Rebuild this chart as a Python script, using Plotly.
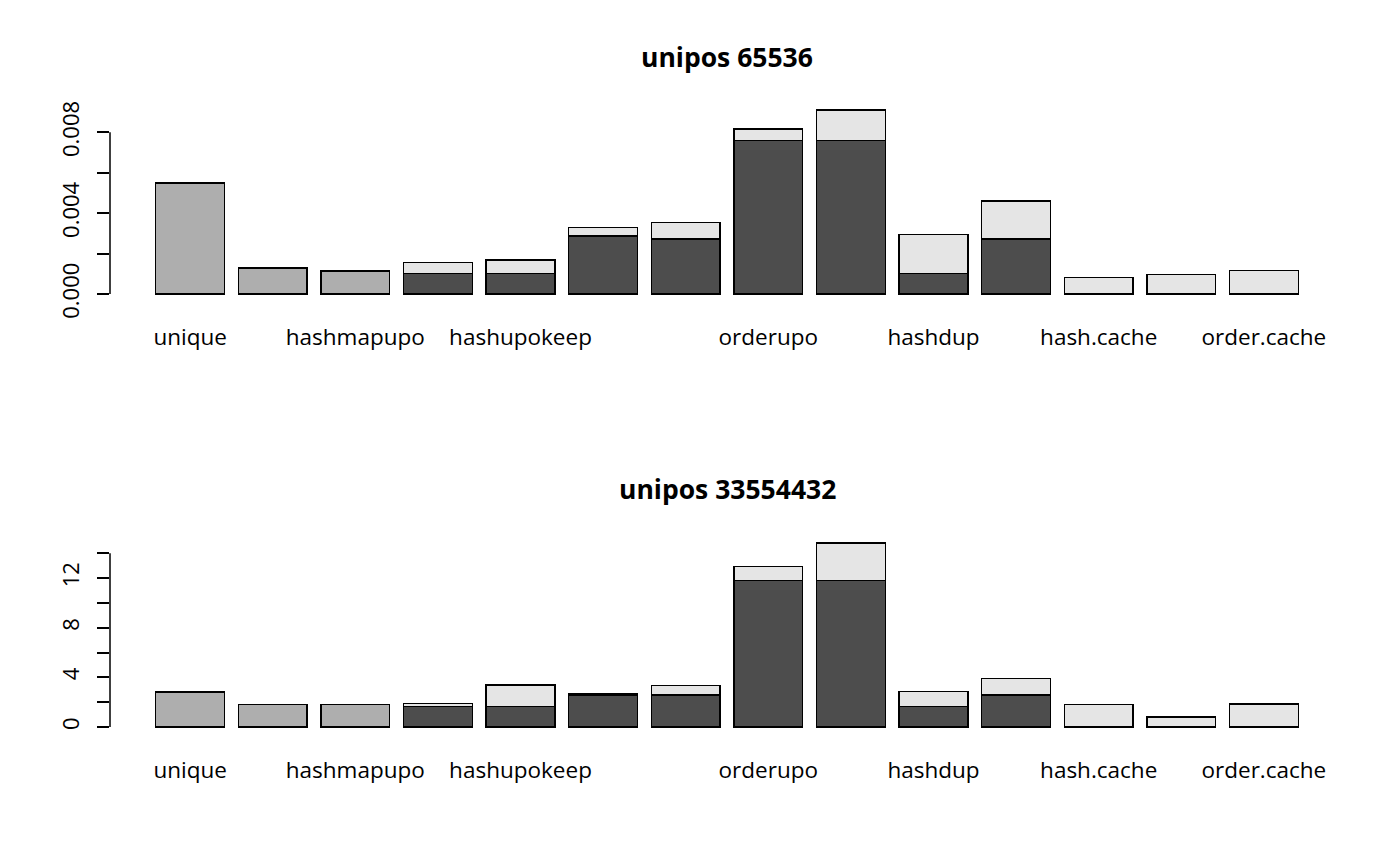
import plotly.graph_objects as go
from plotly.subplots import make_subplots

# bar labels that R actually printed (the rest were dropped for overlap)
label_pos = [1, 3, 5, 8, 10, 12, 14]
label_text = ["unique", "hashmapupo", "hashupokeep", "orderupo",
              "hashdup", "hash.cache", "order.cache"]
bar_pos = list(range(1, 15))

# panel 1: unipos 65536 (seconds)
small_mid = [0.0055, 0.0013, 0.00114, None, None, None, None,
             None, None, None, None, None, None, None]
small_dark = [None, None, None, 0.00102, 0.00102, 0.00287, 0.00272,
              0.00759, 0.00759, 0.00102, 0.00272, None, None, None]
small_light = [None, None, None, 0.00055, 0.00066, 0.00043, 0.00081,
               0.00058, 0.00152, 0.00193, 0.00188, 0.00081, 0.00097, 0.00117]

# panel 2: unipos 33554432 (seconds)
big_mid = [2.82, 1.83, 1.83, None, None, None, None,
           None, None, None, None, None, None, None]
big_dark = [None, None, None, 1.64, 1.64, 2.60, 2.58,
            11.78, 11.78, 1.64, 2.58, None, None, None]
big_light = [None, None, None, 0.27, 1.74, 0.11, 0.75,
             1.13, 3.03, 1.23, 1.34, 1.80, 0.81, 1.85]

titles = ["unipos 65536", "unipos 33554432"]
small_ticks = [0, 0.002, 0.004, 0.006, 0.008]
small_ticktext = ["0.000", "", "0.004", "", "0.008"]
big_ticks = [0, 2, 4, 6, 8, 10, 12, 14]
big_ticktext = ["0", "", "4", "", "8", "", "12", ""]

MID, DARK, LIGHT = "#AEAEAE", "#4D4D4D", "#E5E5E5"
FONT = "Open Sans"
XDOM = [102 / 1400, 1336 / 1400]

fig = make_subplots(rows=2, cols=1)

panels = [
    (1, small_mid, small_dark, small_light),
    (2, big_mid, big_dark, big_light),
]
for row, mid, dark, light in panels:
    for vals, col in [(mid, MID), (dark, DARK), (light, LIGHT)]:
        fig.add_trace(go.Bar(
            x=bar_pos, y=vals, width=0.8333,
            marker=dict(color=col, line=dict(color="black", width=1.5)),
            showlegend=False,
        ), row=row, col=1)

fig.update_layout(
    barmode="stack",
    width=1400, height=866,
    margin=dict(l=0, r=0, t=0, b=0),
    plot_bgcolor="white", paper_bgcolor="white",
    font=dict(family=FONT, size=22.5, color="black"),
)

xcommon = dict(
    range=[0.03, 14.97], domain=XDOM, automargin=False,
    tickvals=label_pos, ticktext=label_text,
    ticks="", showline=False, showgrid=False, zeroline=False,
    ticklabelstandoff=20, tickfont=dict(size=22.5),
)
fig.update_xaxes(**xcommon, row=1, col=1)
fig.update_xaxes(**xcommon, row=2, col=1)

ycommon = dict(
    ticks="outside", ticklen=12, tickwidth=1.5, tickcolor="black",
    tickangle=-90, showline=False, showgrid=False, zeroline=False,
    automargin=False, ticklabelstandoff=9, tickfont=dict(size=22),
)
fig.update_yaxes(**ycommon, range=[-0.000364, 0.00947], domain=[0.6612, 0.8908],
                 tickvals=small_ticks, ticktext=small_ticktext, row=1, col=1)
fig.update_yaxes(**ycommon, range=[-0.592, 15.40], domain=[0.1612, 0.3906],
                 tickvals=big_ticks, ticktext=big_ticktext, row=2, col=1)

# R draws the y axis line only between the first and last tick
fig.add_shape(type="line", xref="x domain", yref="y", x0=0, x1=0,
              y0=small_ticks[0], y1=small_ticks[-1],
              line=dict(color="black", width=1.5))
fig.add_shape(type="line", xref="x2 domain", yref="y2", x0=0, x1=0,
              y0=big_ticks[0], y1=big_ticks[-1],
              line=dict(color="black", width=1.5))

# panel titles
for ypos, txt in zip([1 - 49 / 866, 1 - 481 / 866], titles):
    fig.add_annotation(text="<b>" + txt + "</b>", xref="paper", yref="paper",
                       x=(XDOM[0] + XDOM[1]) / 2, y=ypos, showarrow=False,
                       font=dict(size=26.5, family=FONT), yanchor="middle")

fig.write_html("out.html")
